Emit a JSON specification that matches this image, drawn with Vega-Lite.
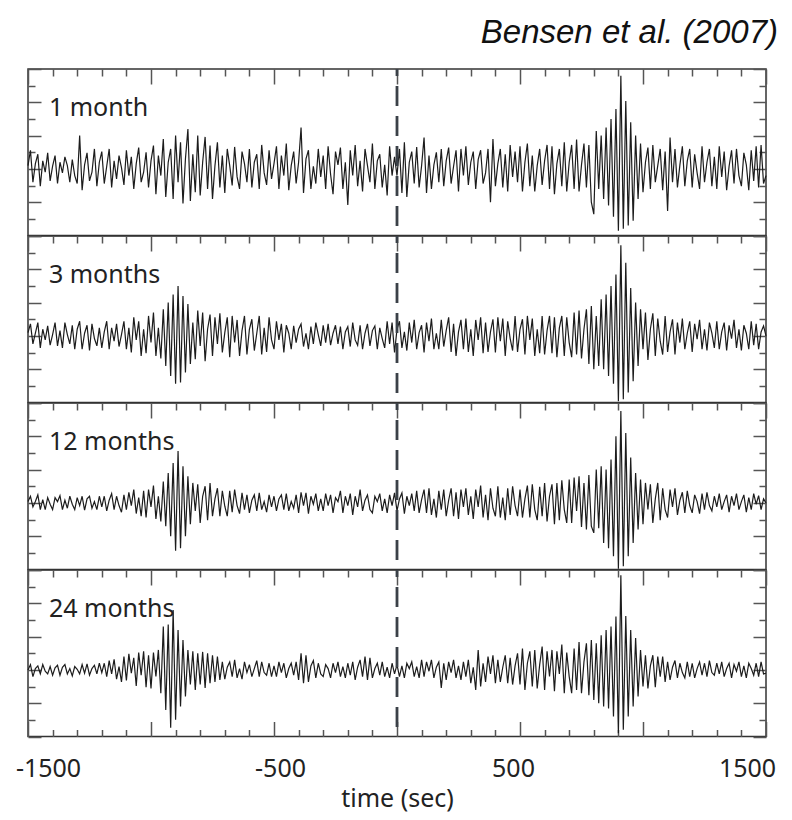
{
"$schema": "https://vega.github.io/schema/vega-lite/v6.json",
"autosize": {"type": "pad"},
"padding": {"left": 14, "top": 16, "right": 0, "bottom": 0},
"background": "white",
"spacing": 0,
"bounds": "flush",
"datasets": {"w": [
{"t":-1500,"a":0.05,"b":0.05,"c":0.02,"d":0},
{"t":-1490,"a":0.28,"b":0.18,"c":0.1,"d":0.08},
{"t":-1480,"a":-0.2,"b":-0.12,"c":-0.06,"d":-0.1},
{"t":-1470,"a":0.08,"b":0.04,"c":0.02,"d":0.02},
{"t":-1460,"a":0.22,"b":0.2,"c":0.12,"d":0.06},
{"t":-1450,"a":-0.26,"b":-0.18,"c":-0.1,"d":-0.06},
{"t":-1440,"a":0.12,"b":0.1,"c":0.05,"d":0.08},
{"t":-1430,"a":-0.05,"b":-0.06,"c":-0.1,"d":-0.02},
{"t":-1420,"a":0.24,"b":0.15,"c":0.08,"d":-0.06},
{"t":-1410,"a":-0.18,"b":-0.14,"c":-0.02,"d":0.05},
{"t":-1400,"a":0.04,"b":0.02,"c":-0.1,"d":-0.08},
{"t":-1390,"a":0.2,"b":0.2,"c":0.08,"d":0.03},
{"t":-1380,"a":-0.22,"b":-0.15,"c":0.02,"d":0.07},
{"t":-1370,"a":0.1,"b":0.08,"c":0.11,"d":-0.08},
{"t":-1360,"a":-0.06,"b":-0.18,"c":-0.1,"d":0.04},
{"t":-1350,"a":0.18,"b":0.2,"c":0.04,"d":0.08},
{"t":-1340,"a":0.05,"b":0.02,"c":-0.08,"d":-0.06},
{"t":-1330,"a":-0.2,"b":-0.12,"c":0.1,"d":0.02},
{"t":-1320,"a":0.14,"b":0.16,"c":-0.02,"d":-0.09},
{"t":-1310,"a":-0.1,"b":-0.2,"c":-0.1,"d":0.05},
{"t":-1300,"a":-0.22,"b":0.1,"c":0.08,"d":0.01},
{"t":-1290,"a":0.5,"b":0.22,"c":-0.04,"d":-0.06},
{"t":-1280,"a":-0.32,"b":-0.2,"c":0.1,"d":0.08},
{"t":-1270,"a":0.06,"b":0.04,"c":-0.11,"d":-0.05},
{"t":-1260,"a":0.24,"b":0.16,"c":0.06,"d":0.09},
{"t":-1250,"a":-0.18,"b":-0.22,"c":0.1,"d":-0.08},
{"t":-1240,"a":-0.05,"b":0.18,"c":-0.08,"d":0.02},
{"t":-1230,"a":0.3,"b":-0.04,"c":0.02,"d":0.07},
{"t":-1220,"a":-0.26,"b":-0.15,"c":-0.1,"d":-0.06},
{"t":-1210,"a":0.1,"b":0.12,"c":0.1,"d":0.1},
{"t":-1200,"a":0.26,"b":-0.18,"c":-0.06,"d":-0.04},
{"t":-1190,"a":-0.22,"b":0.06,"c":0.1,"d":0.1},
{"t":-1180,"a":0.04,"b":0.22,"c":-0.12,"d":-0.1},
{"t":-1170,"a":0.3,"b":-0.2,"c":0.04,"d":0.14},
{"t":-1160,"a":-0.28,"b":0.12,"c":0.14,"d":-0.06},
{"t":-1150,"a":0.12,"b":-0.08,"c":-0.1,"d":0.16},
{"t":-1140,"a":-0.15,"b":0.18,"c":0.1,"d":-0.14},
{"t":-1130,"a":0.2,"b":-0.16,"c":-0.04,"d":0.05},
{"t":-1120,"a":0.02,"b":0.02,"c":-0.14,"d":-0.18},
{"t":-1110,"a":-0.24,"b":0.22,"c":0.12,"d":0.2},
{"t":-1100,"a":0.28,"b":-0.2,"c":-0.1,"d":-0.16},
{"t":-1090,"a":-0.1,"b":0.12,"c":0.16,"d":0.24},
{"t":-1080,"a":0.18,"b":-0.25,"c":-0.04,"d":-0.05},
{"t":-1070,"a":-0.3,"b":0.28,"c":0.2,"d":0.18},
{"t":-1060,"a":0.08,"b":-0.06,"c":-0.16,"d":-0.24},
{"t":-1050,"a":0.32,"b":0.22,"c":0.08,"d":0.26},
{"t":-1040,"a":-0.2,"b":-0.3,"c":-0.2,"d":-0.08},
{"t":-1030,"a":-0.05,"b":0.1,"c":0.18,"d":0.28},
{"t":-1020,"a":0.25,"b":-0.26,"c":-0.22,"d":-0.26},
{"t":-1010,"a":-0.28,"b":0.3,"c":0.2,"d":0.22},
{"t":-1000,"a":0.12,"b":-0.1,"c":-0.06,"d":-0.28},
{"t":-990,"a":0.35,"b":0.35,"c":0.26,"d":0.26},
{"t":-980,"a":-0.38,"b":-0.3,"c":-0.24,"d":-0.1},
{"t":-970,"a":0.2,"b":0.12,"c":0.1,"d":0.3},
{"t":-960,"a":-0.1,"b":-0.34,"c":-0.28,"d":-0.35},
{"t":-950,"a":0.45,"b":0.4,"c":0.32,"d":0.65},
{"t":-940,"a":-0.42,"b":-0.45,"c":-0.35,"d":-0.6},
{"t":-930,"a":0.1,"b":0.5,"c":0.45,"d":0.68},
{"t":-920,"a":0.3,"b":-0.6,"c":-0.5,"d":-0.87},
{"t":-910,"a":-0.45,"b":0.62,"c":0.6,"d":0.9},
{"t":-900,"a":0.5,"b":-0.72,"c":-0.72,"d":-0.75},
{"t":-890,"a":-0.2,"b":0.75,"c":0.78,"d":0.6},
{"t":-880,"a":0.4,"b":-0.7,"c":-0.68,"d":-0.55},
{"t":-870,"a":-0.52,"b":0.6,"c":0.55,"d":0.45},
{"t":-860,"a":0.15,"b":-0.55,"c":-0.5,"d":-0.4},
{"t":-850,"a":0.6,"b":0.48,"c":0.4,"d":0.3},
{"t":-840,"a":-0.48,"b":-0.42,"c":-0.32,"d":-0.22},
{"t":-830,"a":0.22,"b":0.2,"c":0.3,"d":0.28},
{"t":-820,"a":-0.35,"b":-0.35,"c":-0.12,"d":-0.3},
{"t":-810,"a":0.5,"b":0.38,"c":0.28,"d":0.25},
{"t":-800,"a":-0.4,"b":-0.15,"c":-0.3,"d":-0.22},
{"t":-790,"a":0.1,"b":0.35,"c":0.1,"d":0.27},
{"t":-780,"a":0.48,"b":-0.38,"c":0.25,"d":-0.27},
{"t":-770,"a":-0.3,"b":0.1,"c":-0.26,"d":0.25},
{"t":-760,"a":0.35,"b":0.32,"c":0.3,"d":-0.2},
{"t":-750,"a":-0.45,"b":-0.3,"c":-0.2,"d":0.22},
{"t":-740,"a":0.05,"b":0.28,"c":0.06,"d":-0.18},
{"t":-730,"a":0.4,"b":-0.12,"c":0.22,"d":0.2},
{"t":-720,"a":-0.28,"b":0.34,"c":-0.2,"d":-0.15},
{"t":-710,"a":0.2,"b":-0.25,"c":0.18,"d":0.12},
{"t":-700,"a":-0.36,"b":0.05,"c":-0.05,"d":-0.14},
{"t":-690,"a":0.3,"b":0.28,"c":-0.2,"d":0.04},
{"t":-680,"a":0.05,"b":-0.32,"c":0.18,"d":0.12},
{"t":-670,"a":-0.25,"b":0.3,"c":-0.14,"d":-0.1},
{"t":-660,"a":0.33,"b":-0.1,"c":0.2,"d":0.15},
{"t":-650,"a":-0.12,"b":0.24,"c":-0.04,"d":-0.12},
{"t":-640,"a":-0.3,"b":-0.3,"c":-0.16,"d":0.02},
{"t":-630,"a":0.26,"b":0.08,"c":0.15,"d":-0.14},
{"t":-620,"a":0.08,"b":0.3,"c":-0.1,"d":0.12},
{"t":-610,"a":-0.2,"b":-0.28,"c":0.12,"d":-0.04},
{"t":-600,"a":0.3,"b":0.1,"c":-0.15,"d":0.08},
{"t":-590,"a":-0.28,"b":0.25,"c":0.04,"d":-0.1},
{"t":-580,"a":0.1,"b":-0.22,"c":0.12,"d":0.02},
{"t":-570,"a":0.22,"b":0.04,"c":-0.12,"d":0.14},
{"t":-560,"a":-0.3,"b":0.3,"c":0.15,"d":-0.1},
{"t":-550,"a":0.36,"b":-0.28,"c":-0.1,"d":0.12},
{"t":-540,"a":-0.06,"b":0.12,"c":0.02,"d":-0.04},
{"t":-530,"a":-0.24,"b":-0.24,"c":-0.14,"d":-0.08},
{"t":-520,"a":0.28,"b":0.28,"c":0.12,"d":0.1},
{"t":-510,"a":-0.15,"b":-0.06,"c":-0.06,"d":-0.1},
{"t":-500,"a":0.08,"b":-0.2,"c":0.1,"d":0.06},
{"t":-490,"a":0.34,"b":0.22,"c":-0.12,"d":-0.1},
{"t":-480,"a":-0.3,"b":-0.06,"c":0.06,"d":0.12},
{"t":-470,"a":0.2,"b":0.18,"c":0.12,"d":-0.04},
{"t":-460,"a":-0.1,"b":-0.25,"c":-0.1,"d":0.1},
{"t":-450,"a":0.38,"b":0.16,"c":0.14,"d":-0.12},
{"t":-440,"a":-0.32,"b":0.04,"c":-0.12,"d":0.02},
{"t":-430,"a":0.05,"b":-0.2,"c":0.02,"d":0.1},
{"t":-420,"a":0.26,"b":0.15,"c":-0.08,"d":-0.08},
{"t":-410,"a":-0.22,"b":-0.1,"c":0.12,"d":0.12},
{"t":-400,"a":0.1,"b":0.1,"c":-0.15,"d":-0.15},
{"t":-390,"a":0.62,"b":0.18,"c":0.16,"d":0.25},
{"t":-380,"a":-0.36,"b":-0.16,"c":-0.04,"d":-0.2},
{"t":-370,"a":0.15,"b":0.04,"c":0.15,"d":0.22},
{"t":-360,"a":0.28,"b":-0.2,"c":-0.16,"d":-0.18},
{"t":-350,"a":-0.3,"b":0.14,"c":0.1,"d":0.06},
{"t":-340,"a":0.04,"b":-0.12,"c":-0.02,"d":0.14},
{"t":-330,"a":-0.22,"b":0.2,"c":0.14,"d":-0.12},
{"t":-320,"a":0.3,"b":0.02,"c":-0.12,"d":0.1},
{"t":-310,"a":-0.12,"b":-0.15,"c":0.06,"d":-0.06},
{"t":-300,"a":0.2,"b":0.16,"c":-0.12,"d":-0.1},
{"t":-290,"a":-0.3,"b":-0.1,"c":0.14,"d":0.08},
{"t":-280,"a":0.34,"b":0.18,"c":-0.04,"d":0.02},
{"t":-270,"a":-0.08,"b":-0.14,"c":0.12,"d":-0.12},
{"t":-260,"a":-0.38,"b":0.04,"c":-0.15,"d":0.1},
{"t":-250,"a":0.26,"b":0.16,"c":0.08,"d":-0.04},
{"t":-240,"a":0.06,"b":-0.12,"c":0.02,"d":0.12},
{"t":-230,"a":0.32,"b":0.14,"c":0.18,"d":-0.1},
{"t":-220,"a":-0.3,"b":-0.2,"c":-0.15,"d":0.05},
{"t":-210,"a":0.1,"b":0.06,"c":0.1,"d":-0.12},
{"t":-200,"a":-0.54,"b":0.14,"c":-0.04,"d":0.1},
{"t":-190,"a":0.28,"b":-0.16,"c":0.14,"d":-0.08},
{"t":-180,"a":-0.1,"b":0.2,"c":-0.18,"d":0.12},
{"t":-170,"a":0.36,"b":-0.06,"c":0.1,"d":-0.15},
{"t":-160,"a":-0.26,"b":-0.14,"c":-0.06,"d":0.04},
{"t":-150,"a":0.12,"b":0.16,"c":0.2,"d":0.15},
{"t":-140,"a":-0.34,"b":-0.2,"c":-0.12,"d":-0.1},
{"t":-130,"a":0.3,"b":0.04,"c":0.04,"d":0.2},
{"t":-120,"a":0.05,"b":0.18,"c":0.12,"d":-0.15},
{"t":-110,"a":-0.2,"b":-0.15,"c":-0.1,"d":0.18},
{"t":-100,"a":0.38,"b":0.08,"c":-0.15,"d":-0.12},
{"t":-90,"a":-0.3,"b":0.15,"c":0.1,"d":0.02},
{"t":-80,"a":0.12,"b":-0.2,"c":0.02,"d":0.1},
{"t":-70,"a":0.22,"b":0.12,"c":0.14,"d":-0.08},
{"t":-60,"a":-0.28,"b":-0.04,"c":-0.12,"d":0.12},
{"t":-50,"a":0.06,"b":-0.18,"c":0.06,"d":-0.1},
{"t":-40,"a":-0.4,"b":0.22,"c":-0.15,"d":0.04},
{"t":-30,"a":0.34,"b":-0.12,"c":0.12,"d":-0.12},
{"t":-20,"a":-0.1,"b":0.2,"c":-0.04,"d":0.1},
{"t":-10,"a":0.18,"b":-0.25,"c":0.15,"d":-0.06},
{"t":0,"a":-0.1,"b":0.1,"c":-0.12,"d":0.08},
{"t":10,"a":0.3,"b":0.22,"c":0.06,"d":-0.1},
{"t":20,"a":-0.36,"b":-0.18,"c":0.15,"d":0.06},
{"t":30,"a":0.4,"b":0.06,"c":-0.16,"d":-0.12},
{"t":40,"a":-0.42,"b":-0.22,"c":0.1,"d":0.1},
{"t":50,"a":0.1,"b":0.2,"c":-0.04,"d":0.02},
{"t":60,"a":0.26,"b":-0.1,"c":0.14,"d":0.12},
{"t":70,"a":-0.22,"b":0.24,"c":-0.12,"d":-0.1},
{"t":80,"a":0.33,"b":-0.2,"c":0.18,"d":0.05},
{"t":90,"a":-0.28,"b":0.05,"c":-0.15,"d":-0.12},
{"t":100,"a":0.05,"b":0.16,"c":0.05,"d":0.15},
{"t":110,"a":0.47,"b":-0.25,"c":0.2,"d":-0.1},
{"t":120,"a":-0.36,"b":0.2,"c":-0.15,"d":0.12},
{"t":130,"a":0.2,"b":-0.08,"c":0.22,"d":-0.02},
{"t":140,"a":-0.3,"b":0.26,"c":-0.18,"d":0.15},
{"t":150,"a":0.06,"b":-0.2,"c":0.06,"d":-0.12},
{"t":160,"a":0.25,"b":0.04,"c":-0.22,"d":0.04},
{"t":170,"a":-0.2,"b":-0.2,"c":0.18,"d":0.12},
{"t":180,"a":0.3,"b":0.24,"c":-0.1,"d":-0.27},
{"t":190,"a":-0.26,"b":-0.16,"c":0.2,"d":0.1},
{"t":200,"a":0.12,"b":0.08,"c":-0.2,"d":-0.15},
{"t":210,"a":0.32,"b":0.28,"c":0.04,"d":0.12},
{"t":220,"a":-0.22,"b":-0.24,"c":0.22,"d":-0.04},
{"t":230,"a":0.04,"b":0.18,"c":-0.2,"d":0.15},
{"t":240,"a":0.28,"b":-0.3,"c":0.16,"d":-0.12},
{"t":250,"a":-0.34,"b":0.06,"c":-0.24,"d":0.06},
{"t":260,"a":0.3,"b":0.24,"c":0.2,"d":-0.15},
{"t":270,"a":-0.1,"b":-0.2,"c":-0.06,"d":0.12},
{"t":280,"a":0.34,"b":0.26,"c":0.22,"d":-0.1},
{"t":290,"a":-0.24,"b":-0.24,"c":-0.18,"d":0.15},
{"t":300,"a":0.1,"b":0.1,"c":0.1,"d":-0.2},
{"t":310,"a":0.26,"b":-0.3,"c":-0.24,"d":0.04},
{"t":320,"a":-0.3,"b":0.24,"c":0.2,"d":-0.3},
{"t":330,"a":0.14,"b":-0.06,"c":-0.06,"d":0.3},
{"t":340,"a":0.28,"b":0.28,"c":0.26,"d":-0.25},
{"t":350,"a":-0.22,"b":-0.26,"c":-0.22,"d":0.1},
{"t":360,"a":-0.06,"b":0.2,"c":0.12,"d":-0.18},
{"t":370,"a":0.3,"b":-0.24,"c":-0.26,"d":0.2},
{"t":380,"a":-0.5,"b":0.06,"c":0.22,"d":-0.06},
{"t":390,"a":0.45,"b":0.25,"c":-0.08,"d":0.22},
{"t":400,"a":-0.26,"b":-0.25,"c":-0.2,"d":-0.2},
{"t":410,"a":0.08,"b":0.28,"c":0.25,"d":0.15},
{"t":420,"a":0.3,"b":-0.08,"c":-0.22,"d":-0.18},
{"t":430,"a":-0.28,"b":0.26,"c":0.08,"d":0.04},
{"t":440,"a":0.22,"b":-0.3,"c":-0.26,"d":0.22},
{"t":450,"a":-0.34,"b":0.22,"c":0.22,"d":-0.2},
{"t":460,"a":0.36,"b":-0.04,"c":-0.18,"d":0.18},
{"t":470,"a":-0.12,"b":-0.22,"c":0.25,"d":-0.22},
{"t":480,"a":0.26,"b":0.3,"c":-0.04,"d":0.06},
{"t":490,"a":-0.2,"b":-0.24,"c":-0.2,"d":0.25},
{"t":500,"a":0.34,"b":0.1,"c":0.2,"d":-0.22},
{"t":510,"a":-0.34,"b":0.25,"c":-0.22,"d":0.32},
{"t":520,"a":0.1,"b":-0.28,"c":0.06,"d":-0.3},
{"t":530,"a":0.38,"b":0.3,"c":0.26,"d":0.1},
{"t":540,"a":-0.26,"b":-0.06,"c":-0.22,"d":0.28},
{"t":550,"a":0.2,"b":0.26,"c":0.28,"d":-0.25},
{"t":560,"a":-0.34,"b":-0.3,"c":-0.1,"d":0.3},
{"t":570,"a":0.05,"b":0.1,"c":-0.26,"d":-0.28},
{"t":580,"a":0.3,"b":-0.26,"c":0.24,"d":0.08},
{"t":590,"a":-0.24,"b":0.3,"c":-0.2,"d":0.35},
{"t":600,"a":0.12,"b":-0.28,"c":0.3,"d":-0.3},
{"t":610,"a":0.36,"b":0.08,"c":-0.28,"d":0.28},
{"t":620,"a":-0.3,"b":0.3,"c":0.1,"d":-0.1},
{"t":630,"a":0.34,"b":-0.26,"c":0.28,"d":0.3},
{"t":640,"a":-0.38,"b":0.28,"c":-0.32,"d":-0.32},
{"t":650,"a":0.08,"b":-0.32,"c":0.3,"d":0.28},
{"t":660,"a":0.3,"b":0.12,"c":-0.26,"d":-0.06},
{"t":670,"a":-0.26,"b":0.3,"c":0.34,"d":0.38},
{"t":680,"a":0.4,"b":-0.3,"c":-0.1,"d":-0.35},
{"t":690,"a":-0.34,"b":0.28,"c":-0.3,"d":0.26},
{"t":700,"a":0.1,"b":-0.1,"c":0.35,"d":-0.1},
{"t":710,"a":0.36,"b":-0.32,"c":-0.3,"d":-0.35},
{"t":720,"a":-0.3,"b":0.35,"c":0.38,"d":0.32},
{"t":730,"a":0.44,"b":-0.28,"c":-0.12,"d":-0.3},
{"t":740,"a":-0.34,"b":0.38,"c":0.4,"d":0.42},
{"t":750,"a":0.06,"b":-0.34,"c":-0.36,"d":-0.35},
{"t":760,"a":0.38,"b":0.1,"c":0.3,"d":0.12},
{"t":770,"a":-0.28,"b":0.4,"c":-0.4,"d":0.4},
{"t":780,"a":0.36,"b":-0.42,"c":0.42,"d":-0.38},
{"t":790,"a":-0.5,"b":0.45,"c":-0.35,"d":0.45},
{"t":800,"a":-0.68,"b":-0.5,"c":-0.45,"d":-0.45},
{"t":810,"a":0.57,"b":0.3,"c":0.5,"d":0.4},
{"t":820,"a":-0.3,"b":-0.45,"c":-0.38,"d":-0.5},
{"t":830,"a":0.5,"b":0.55,"c":0.55,"d":0.52},
{"t":840,"a":-0.45,"b":-0.5,"c":-0.6,"d":-0.55},
{"t":850,"a":0.62,"b":0.62,"c":0.5,"d":0.6},
{"t":860,"a":-0.55,"b":-0.6,"c":-0.68,"d":-0.58},
{"t":870,"a":0.75,"b":0.75,"c":0.65,"d":0.65},
{"t":880,"a":-0.72,"b":-0.72,"c":-0.8,"d":-0.7},
{"t":890,"a":0.9,"b":0.92,"c":1.0,"d":0.8},
{"t":900,"a":-0.93,"b":-0.98,"c":-0.99,"d":-0.95},
{"t":910,"a":1.4,"b":1.36,"c":1.38,"d":1.42},
{"t":920,"a":-0.9,"b":-0.95,"c":-0.95,"d":-0.9},
{"t":930,"a":1.02,"b":1.1,"c":1.05,"d":0.81},
{"t":940,"a":-0.85,"b":-0.85,"c":-0.8,"d":-0.7},
{"t":950,"a":0.7,"b":0.72,"c":0.68,"d":0.6},
{"t":960,"a":-0.78,"b":-0.68,"c":-0.6,"d":-0.55},
{"t":970,"a":0.5,"b":0.5,"c":0.45,"d":0.48},
{"t":980,"a":-0.45,"b":-0.45,"c":-0.4,"d":-0.4},
{"t":990,"a":0.38,"b":0.4,"c":0.35,"d":0.3},
{"t":1000,"a":-0.35,"b":-0.2,"c":-0.32,"d":-0.25},
{"t":1010,"a":0.1,"b":0.35,"c":0.3,"d":0.22},
{"t":1020,"a":0.32,"b":-0.36,"c":-0.1,"d":-0.28},
{"t":1030,"a":-0.3,"b":0.1,"c":0.28,"d":0.06},
{"t":1040,"a":0.36,"b":0.34,"c":-0.3,"d":0.22},
{"t":1050,"a":-0.2,"b":-0.3,"c":0.06,"d":-0.26},
{"t":1060,"a":0.05,"b":0.26,"c":0.3,"d":0.2},
{"t":1070,"a":0.3,"b":-0.08,"c":-0.26,"d":-0.1},
{"t":1080,"a":-0.32,"b":-0.28,"c":0.22,"d":0.2},
{"t":1090,"a":0.26,"b":0.3,"c":-0.1,"d":-0.18},
{"t":1100,"a":-0.63,"b":-0.24,"c":-0.22,"d":0.12},
{"t":1110,"a":0.47,"b":0.06,"c":0.2,"d":-0.15},
{"t":1120,"a":-0.2,"b":0.25,"c":-0.06,"d":0.04},
{"t":1130,"a":0.3,"b":-0.28,"c":0.22,"d":0.14},
{"t":1140,"a":-0.28,"b":0.2,"c":-0.18,"d":-0.12},
{"t":1150,"a":0.06,"b":-0.1,"c":0.04,"d":0.1},
{"t":1160,"a":0.34,"b":0.26,"c":0.16,"d":-0.04},
{"t":1170,"a":-0.26,"b":-0.2,"c":-0.15,"d":-0.12},
{"t":1180,"a":0.12,"b":0.04,"c":0.18,"d":0.12},
{"t":1190,"a":0.3,"b":0.22,"c":-0.04,"d":-0.1},
{"t":1200,"a":-0.28,"b":-0.24,"c":-0.15,"d":0.1},
{"t":1210,"a":0.22,"b":0.18,"c":0.12,"d":-0.12},
{"t":1220,"a":-0.06,"b":-0.05,"c":0.02,"d":0.02},
{"t":1230,"a":-0.3,"b":0.24,"c":-0.16,"d":0.12},
{"t":1240,"a":0.34,"b":-0.2,"c":0.14,"d":-0.08},
{"t":1250,"a":-0.2,"b":0.1,"c":-0.1,"d":0.1},
{"t":1260,"a":0.1,"b":-0.22,"c":0.16,"d":-0.1},
{"t":1270,"a":0.3,"b":0.2,"c":-0.04,"d":0.14},
{"t":1280,"a":-0.26,"b":0.04,"c":-0.12,"d":-0.04},
{"t":1290,"a":0.18,"b":-0.18,"c":0.1,"d":-0.08},
{"t":1300,"a":-0.3,"b":0.22,"c":-0.06,"d":0.1},
{"t":1310,"a":0.34,"b":-0.2,"c":0.14,"d":-0.06},
{"t":1320,"a":-0.12,"b":0.06,"c":-0.1,"d":0.12},
{"t":1330,"a":0.26,"b":0.2,"c":0.02,"d":-0.1},
{"t":1340,"a":-0.32,"b":-0.22,"c":0.12,"d":0.02},
{"t":1350,"a":0.04,"b":0.16,"c":-0.14,"d":0.1},
{"t":1360,"a":0.28,"b":-0.04,"c":0.1,"d":-0.12},
{"t":1370,"a":-0.22,"b":0.24,"c":-0.04,"d":0.08},
{"t":1380,"a":0.3,"b":-0.18,"c":0.14,"d":-0.02},
{"t":1390,"a":-0.1,"b":0.1,"c":-0.1,"d":0.12},
{"t":1400,"a":-0.26,"b":-0.22,"c":0.02,"d":-0.1},
{"t":1410,"a":0.24,"b":0.16,"c":0.12,"d":0.06},
{"t":1420,"a":0.06,"b":0.04,"c":-0.14,"d":-0.12},
{"t":1430,"a":-0.32,"b":-0.2,"c":0.08,"d":0.1},
{"t":1440,"a":0.28,"b":0.22,"c":-0.1,"d":0.02},
{"t":1450,"a":-0.18,"b":-0.14,"c":0.14,"d":-0.08},
{"t":1460,"a":0.34,"b":0.18,"c":-0.02,"d":0.1},
{"t":1470,"a":-0.28,"b":-0.2,"c":0.11,"d":-0.1},
{"t":1480,"a":0.36,"b":0.06,"c":-0.1,"d":0.12},
{"t":1490,"a":-0.22,"b":0.15,"c":0.06,"d":-0.06},
{"t":1500,"a":-0.1,"b":0,"c":0,"d":-0.05}
]},
"vconcat": [
{"width": 738, "height": 166.5,
 "layer": [
  {"data": {"name": "w"}, "mark": {"type": "line", "color": "#1c1c1c", "strokeWidth": 1.2},
   "encoding": {
    "x": {"field": "t", "type": "quantitative", "scale": {"domain": [-1500, 1500], "nice": false, "zero": false}, "axis": {"orient": "top", "values": [-1500,-1400,-1300,-1200,-1100,-1000,-900,-800,-700,-600,-500,-400,-300,-200,-100,0,100,200,300,400,500,600,700,800,900,1000,1100,1200,1300,1400,1500], "tickSize": {"condition": {"test": "datum.value % 500 === 0", "value": -15}, "value": -7}, "labels": false, "domain": false, "grid": false, "title": null, "tickColor": "#555", "tickWidth": 1.5}},
    "y": {"field": "a", "type": "quantitative", "scale": {"domain": [-1, 1.5], "nice": false, "zero": false}, "axis": {"orient": "left", "values": [-1,-0.75,-0.5,-0.25,0,0.25,0.5,0.75,1,1.25,1.5], "tickSize": {"condition": {"test": "datum.value % 0.5 === 0", "value": -13}, "value": -7}, "labels": false, "domain": false, "grid": false, "title": null, "tickColor": "#555", "tickWidth": 1.5}}}},
  {"data": {"values": [{}]}, "mark": {"type": "rule", "color": "#3b4148", "strokeWidth": 2.8, "strokeDash": [20, 10], "strokeDashOffset": 13},
   "encoding": {"x": {"datum": 0, "type": "quantitative", "scale": {"domain": [-1500, 1500], "nice": false, "zero": false}, "axis": null}}},
  {"data": {"values": [{"label": "Bensen et al. (2007)"}]}, "mark": {"type": "text", "align": "right", "baseline": "alphabetic", "font": "Liberation Sans", "fontStyle": "italic", "fontSize": 33, "color": "#111", "dx": 12},
   "encoding": {"text": {"field": "label"},
    "x": {"datum": 1500, "type": "quantitative", "scale": {"domain": [-1500, 1500], "nice": false, "zero": false}, "axis": null},
    "y": {"datum": 1.89, "type": "quantitative", "scale": {"domain": [-1, 1.5], "nice": false, "zero": false}, "axis": null}}},
  {"data": {"values": [{"label": "1 month"}]}, "mark": {"type": "text", "align": "left", "baseline": "alphabetic", "font": "Noto Sans", "fontSize": 25, "color": "#222"},
   "encoding": {"text": {"field": "label"},
    "x": {"datum": -1415, "type": "quantitative", "scale": {"domain": [-1500, 1500], "nice": false, "zero": false}, "axis": null},
    "y": {"datum": 0.8, "type": "quantitative", "scale": {"domain": [-1, 1.5], "nice": false, "zero": false}, "axis": {"orient": "right", "values": [-1,-0.75,-0.5,-0.25,0,0.25,0.5,0.75,1,1.25,1.5], "tickSize": {"condition": {"test": "datum.value % 0.5 === 0", "value": -13}, "value": -7}, "labels": false, "domain": false, "grid": false, "title": null, "tickColor": "#555", "tickWidth": 1.5}}}}
 ],
 "resolve": {"axis": {"x": "independent", "y": "independent"}}
},
{"width": 738, "height": 166.5,
 "layer": [
  {"data": {"name": "w"}, "mark": {"type": "line", "color": "#1c1c1c", "strokeWidth": 1.2},
   "encoding": {
    "x": {"field": "t", "type": "quantitative", "scale": {"domain": [-1500, 1500], "nice": false, "zero": false}, "axis": {"orient": "top", "values": [-1500,-1400,-1300,-1200,-1100,-1000,-900,-800,-700,-600,-500,-400,-300,-200,-100,0,100,200,300,400,500,600,700,800,900,1000,1100,1200,1300,1400,1500], "tickSize": {"condition": {"test": "datum.value % 500 === 0", "value": -15}, "value": -7}, "labels": false, "domain": false, "grid": false, "title": null, "tickColor": "#555", "tickWidth": 1.5}},
    "y": {"field": "b", "type": "quantitative", "scale": {"domain": [-1, 1.5], "nice": false, "zero": false}, "axis": {"orient": "left", "values": [-1,-0.75,-0.5,-0.25,0,0.25,0.5,0.75,1,1.25,1.5], "tickSize": {"condition": {"test": "datum.value % 0.5 === 0", "value": -13}, "value": -7}, "labels": false, "domain": false, "grid": false, "title": null, "tickColor": "#555", "tickWidth": 1.5}}}},
  {"data": {"values": [{}]}, "mark": {"type": "rule", "color": "#3b4148", "strokeWidth": 2.8, "strokeDash": [20, 10], "strokeDashOffset": 13},
   "encoding": {"x": {"datum": 0, "type": "quantitative", "scale": {"domain": [-1500, 1500], "nice": false, "zero": false}, "axis": null}}},
  {"data": {"values": [{"label": "3 months"}]}, "mark": {"type": "text", "align": "left", "baseline": "alphabetic", "font": "Noto Sans", "fontSize": 25, "color": "#222"},
   "encoding": {"text": {"field": "label"},
    "x": {"datum": -1415, "type": "quantitative", "scale": {"domain": [-1500, 1500], "nice": false, "zero": false}, "axis": null},
    "y": {"datum": 0.8, "type": "quantitative", "scale": {"domain": [-1, 1.5], "nice": false, "zero": false}, "axis": {"orient": "right", "values": [-1,-0.75,-0.5,-0.25,0,0.25,0.5,0.75,1,1.25,1.5], "tickSize": {"condition": {"test": "datum.value % 0.5 === 0", "value": -13}, "value": -7}, "labels": false, "domain": false, "grid": false, "title": null, "tickColor": "#555", "tickWidth": 1.5}}}}
 ],
 "resolve": {"axis": {"x": "independent", "y": "independent"}}
},
{"width": 738, "height": 166.5,
 "layer": [
  {"data": {"name": "w"}, "mark": {"type": "line", "color": "#1c1c1c", "strokeWidth": 1.2},
   "encoding": {
    "x": {"field": "t", "type": "quantitative", "scale": {"domain": [-1500, 1500], "nice": false, "zero": false}, "axis": {"orient": "top", "values": [-1500,-1400,-1300,-1200,-1100,-1000,-900,-800,-700,-600,-500,-400,-300,-200,-100,0,100,200,300,400,500,600,700,800,900,1000,1100,1200,1300,1400,1500], "tickSize": {"condition": {"test": "datum.value % 500 === 0", "value": -15}, "value": -7}, "labels": false, "domain": false, "grid": false, "title": null, "tickColor": "#555", "tickWidth": 1.5}},
    "y": {"field": "c", "type": "quantitative", "scale": {"domain": [-1, 1.5], "nice": false, "zero": false}, "axis": {"orient": "left", "values": [-1,-0.75,-0.5,-0.25,0,0.25,0.5,0.75,1,1.25,1.5], "tickSize": {"condition": {"test": "datum.value % 0.5 === 0", "value": -13}, "value": -7}, "labels": false, "domain": false, "grid": false, "title": null, "tickColor": "#555", "tickWidth": 1.5}}}},
  {"data": {"values": [{}]}, "mark": {"type": "rule", "color": "#3b4148", "strokeWidth": 2.8, "strokeDash": [20, 10], "strokeDashOffset": 13},
   "encoding": {"x": {"datum": 0, "type": "quantitative", "scale": {"domain": [-1500, 1500], "nice": false, "zero": false}, "axis": null}}},
  {"data": {"values": [{"label": "12 months"}]}, "mark": {"type": "text", "align": "left", "baseline": "alphabetic", "font": "Noto Sans", "fontSize": 25, "color": "#222"},
   "encoding": {"text": {"field": "label"},
    "x": {"datum": -1415, "type": "quantitative", "scale": {"domain": [-1500, 1500], "nice": false, "zero": false}, "axis": null},
    "y": {"datum": 0.8, "type": "quantitative", "scale": {"domain": [-1, 1.5], "nice": false, "zero": false}, "axis": {"orient": "right", "values": [-1,-0.75,-0.5,-0.25,0,0.25,0.5,0.75,1,1.25,1.5], "tickSize": {"condition": {"test": "datum.value % 0.5 === 0", "value": -13}, "value": -7}, "labels": false, "domain": false, "grid": false, "title": null, "tickColor": "#555", "tickWidth": 1.5}}}}
 ],
 "resolve": {"axis": {"x": "independent", "y": "independent"}}
},
{"width": 738, "height": 166.5,
 "layer": [
  {"data": {"name": "w"}, "mark": {"type": "line", "color": "#1c1c1c", "strokeWidth": 1.2},
   "encoding": {
    "x": {"field": "t", "type": "quantitative", "scale": {"domain": [-1500, 1500], "nice": false, "zero": false}, "axis": {"orient": "top", "values": [-1500,-1400,-1300,-1200,-1100,-1000,-900,-800,-700,-600,-500,-400,-300,-200,-100,0,100,200,300,400,500,600,700,800,900,1000,1100,1200,1300,1400,1500], "tickSize": {"condition": {"test": "datum.value % 500 === 0", "value": -15}, "value": -7}, "labels": false, "domain": false, "grid": false, "title": null, "tickColor": "#555", "tickWidth": 1.5}},
    "y": {"field": "d", "type": "quantitative", "scale": {"domain": [-1, 1.5], "nice": false, "zero": false}, "axis": {"orient": "left", "values": [-1,-0.75,-0.5,-0.25,0,0.25,0.5,0.75,1,1.25,1.5], "tickSize": {"condition": {"test": "datum.value % 0.5 === 0", "value": -13}, "value": -7}, "labels": false, "domain": false, "grid": false, "title": null, "tickColor": "#555", "tickWidth": 1.5}}}},
  {"data": {"values": [{}]}, "mark": {"type": "rule", "color": "#3b4148", "strokeWidth": 2.8, "strokeDash": [20, 10], "strokeDashOffset": 13},
   "encoding": {"x": {"datum": 0, "type": "quantitative", "scale": {"domain": [-1500, 1500], "nice": false, "zero": false}, "axis": {"orient": "bottom", "values": [-1500,-1400,-1300,-1200,-1100,-1000,-900,-800,-700,-600,-500,-400,-300,-200,-100,0,100,200,300,400,500,600,700,800,900,1000,1100,1200,1300,1400,1500], "tickSize": {"condition": {"test": "datum.value % 500 === 0", "value": -15}, "value": -7}, "labels": false, "domain": false, "grid": false, "title": null, "tickColor": "#555", "tickWidth": 1.5}}}},
  {"data": {"values": [{"label": "24 months"}]}, "mark": {"type": "text", "align": "left", "baseline": "alphabetic", "font": "Noto Sans", "fontSize": 25, "color": "#222"},
   "encoding": {"text": {"field": "label"},
    "x": {"datum": -1415, "type": "quantitative", "scale": {"domain": [-1500, 1500], "nice": false, "zero": false}, "axis": {"orient": "bottom", "values": [-1500,-500,500,1500], "ticks": false, "domain": false, "grid": false, "labelFlush": false, "labelExpr": "datum.value < 0 ? '-' + abs(datum.value) : '' + datum.value", "labelFont": "Noto Sans", "labelFontSize": 25, "labelColor": "#222", "labelPadding": 20, "labelOffset": {"condition": [{"test": "datum.value == -1500", "value": 20}, {"test": "datum.value == -500", "value": 6}, {"test": "datum.value == 500", "value": -7}], "value": -19}, "title": "time (sec)", "titleFont": "Noto Sans", "titleFontSize": 25, "titleFontWeight": "normal", "titleColor": "#222", "titlePadding": 5}},
    "y": {"datum": 0.8, "type": "quantitative", "scale": {"domain": [-1, 1.5], "nice": false, "zero": false}, "axis": {"orient": "right", "values": [-1,-0.75,-0.5,-0.25,0,0.25,0.5,0.75,1,1.25,1.5], "tickSize": {"condition": {"test": "datum.value % 0.5 === 0", "value": -13}, "value": -7}, "labels": false, "domain": false, "grid": false, "title": null, "tickColor": "#555", "tickWidth": 1.5}}}}
 ],
 "resolve": {"axis": {"x": "independent", "y": "independent"}}
}
],
"config": {"view": {"stroke": "#333", "strokeWidth": 1.5}, "font": "Noto Sans"}
}
